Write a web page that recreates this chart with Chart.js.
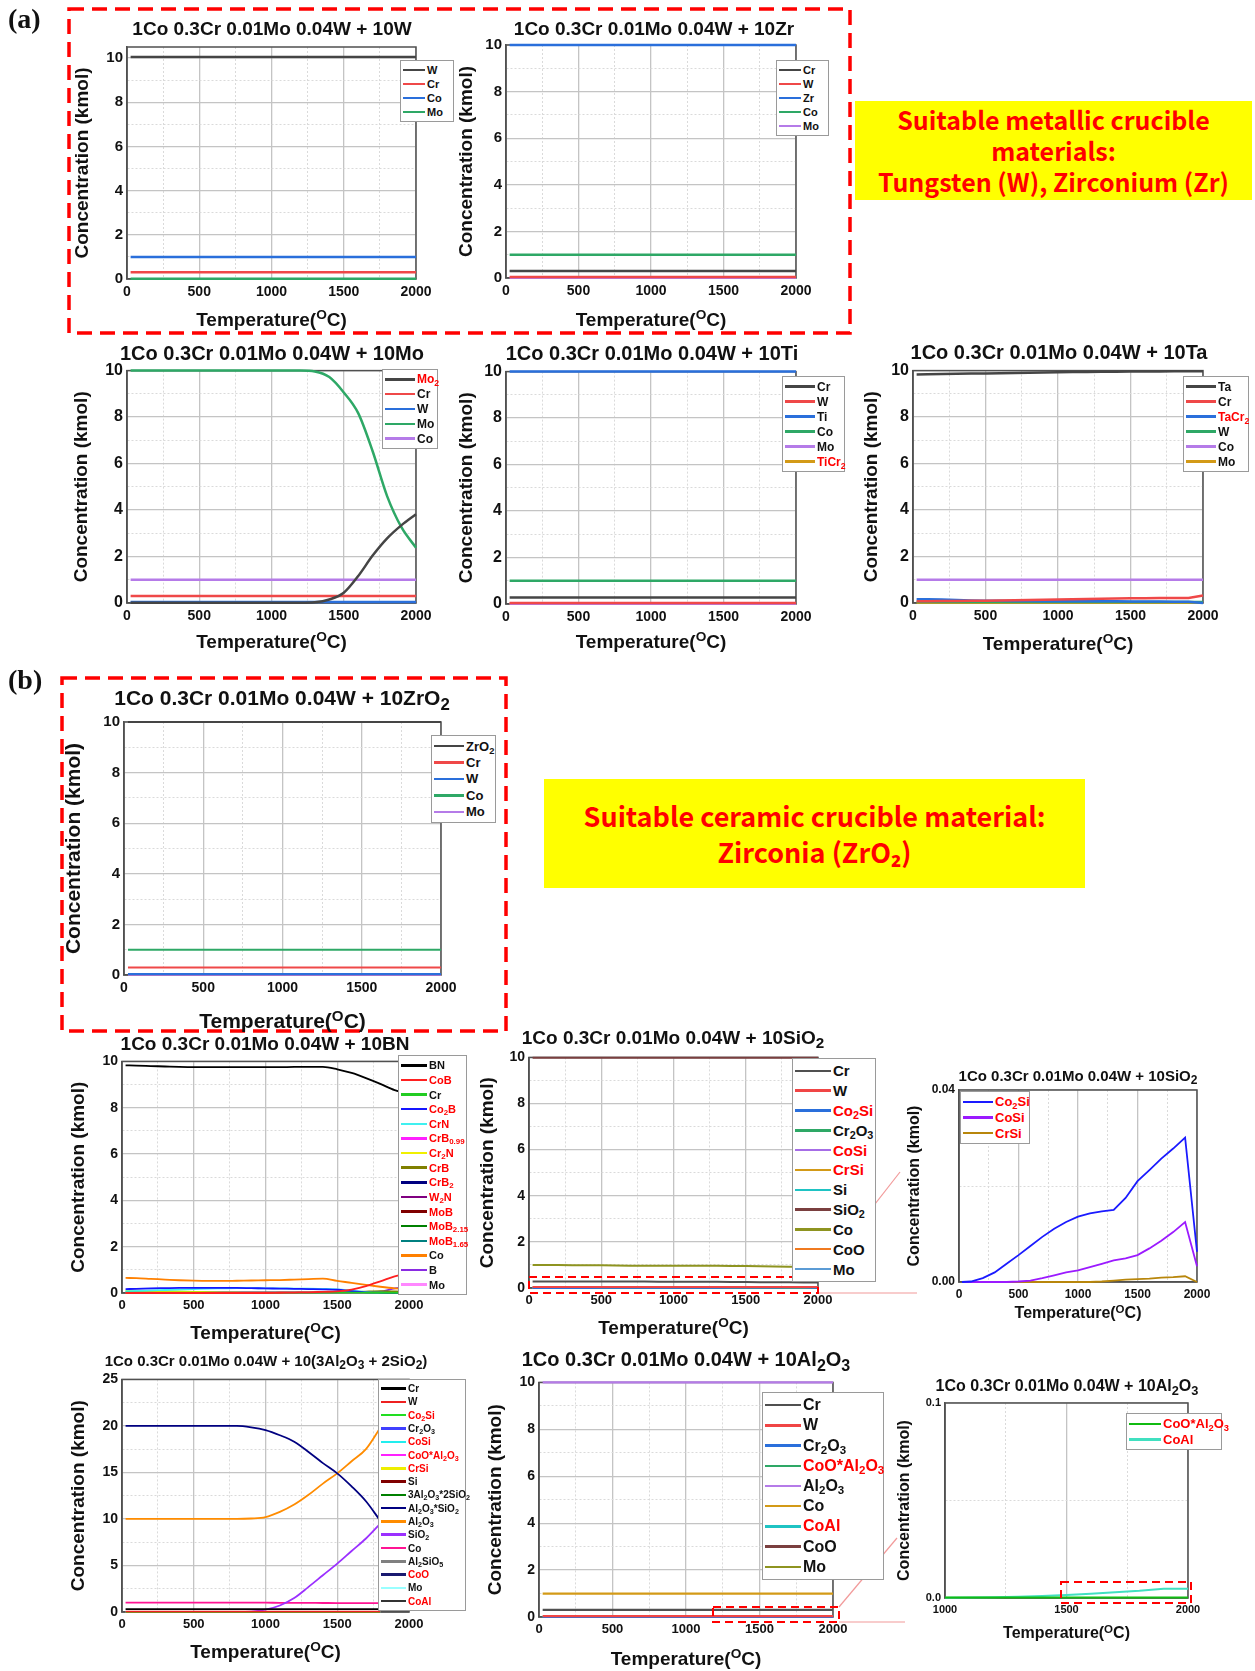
<!DOCTYPE html>
<html>
<head>
<meta charset="utf-8">
<script src="https://cdn.jsdelivr.net/npm/chart.js@4.4.1/dist/chart.umd.min.js"></script>
<style>
  body { margin: 0; background: #fff; }
  #page { position: relative; width: 1255px; height: 1671px; overflow: hidden; font-family: "Liberation Sans", Arial, sans-serif; color: #111; }
  canvas { position: absolute; z-index: 1; }
  .ttl { position: absolute; transform: translate(-50%, -50%); white-space: nowrap; font-weight: bold; z-index: 5; line-height: 1; }
  .ttl sub { font-size: 0.8em; vertical-align: -0.3em; line-height: 0; }
  .ttl sup { font-size: 0.72em; vertical-align: 0.45em; line-height: 0; }
  .lg { position: absolute; background: #fff; border: 1px solid #9a9a9a; box-sizing: border-box; z-index: 4; padding: 2px 2px; font-weight: bold; }
  .lg .row { display: flex; align-items: center; white-space: nowrap; }
  .lg .sw { flex: none; margin-right: 2px; }
  .lg sub { font-size: 0.72em; vertical-align: -0.3em; line-height: 0; }
  .note { position: absolute; background: #ffff00; color: #ff0000; font-weight: bold; text-align: center; font-family: "Noto Sans CJK KR", "Noto Sans", sans-serif; display: flex; flex-direction: column; justify-content: center; z-index: 5; }
  .tag { position: absolute; font-family: "Liberation Serif", "Times New Roman", serif; font-weight: bold; font-size: 28px; z-index: 5; }
  svg { position: absolute; left: 0; top: 0; }
</style>
</head>
<body>
<div id="page">
  <svg width="1255" height="1671" style="z-index:0">
    <g stroke="#f29a9a" stroke-width="1.2" fill="none">
      <line x1="818" y1="1277" x2="900" y2="1172"/>
      <line x1="818" y1="1293" x2="917" y2="1293"/>
      <line x1="839" y1="1607" x2="897" y2="1538"/>
      <line x1="839" y1="1622" x2="905" y2="1622"/>
    </g>
  </svg>
  <svg width="1255" height="1671" style="z-index:3">
    <g fill="none" stroke="#ff0000">
      <rect x="69" y="9" width="781" height="324" stroke-width="3.5" stroke-dasharray="15 8"/>
      <rect x="62" y="678" width="444" height="353" stroke-width="3.5" stroke-dasharray="15 8"/>
      <rect x="529" y="1277" width="289" height="16" stroke-width="2" stroke-dasharray="8 5"/>
      <rect x="713" y="1607" width="126" height="15" stroke-width="2" stroke-dasharray="8 5"/>
      <rect x="1061" y="1582" width="130" height="21" stroke-width="2" stroke-dasharray="8 5"/>
    </g>
  </svg>
  <div class="tag" style="left:8px;top:3px;">(a)</div>
  <div class="tag" style="left:8px;top:664px;">(b)</div>
  <div class="note" style="left:855px;top:101px;width:397px;height:99px;font-size:25px;line-height:31px;">
    <div>Suitable metallic crucible</div><div>materials:</div><div>Tungsten (W), Zirconium (Zr)</div>
  </div>
  <div class="note" style="left:544px;top:779px;width:541px;height:109px;font-size:27px;line-height:36px;">
    <div>Suitable ceramic crucible material:</div><div>Zirconia (ZrO₂)</div>
  </div>
</div>
<script>
// temperature grids (degC)
const T_FLAT = [25, 2000];
const T_STEP = [25, 100, 200, 300, 400, 500, 600, 700, 800, 900, 1000, 1100, 1200, 1300, 1400, 1500, 1600, 1700, 1800, 1900, 2000];
const T_MUL = [25, 100, 200, 300, 400, 500, 600, 700, 800, 900, 1000, 1100, 1200, 1300, 1400, 1500, 1600, 1700, 1800];
const T_MUL_FLAT = [25, 1800];
const T_AL = [1000, 1100, 1200, 1300, 1400, 1500, 1600, 1700, 1800, 1900, 2000];
const T_AL_FLAT = [1000, 2000];

// + 10W  (a single number = flat line)
const wNames = ['W', 'Cr', 'Co', 'Mo'];
const wValues = [10.05, 0.3, 1.0, 0.01];

// + 10Zr
const zrNames = ['Cr', 'W', 'Zr', 'Co', 'Mo'];
const zrValues = [0.3, 0.04, 10.0, 1.0, 0.01];

// + 10Mo
const moMo2 = [0.01, 0.01, 0.01, 0.01, 0.01, 0.01, 0.01, 0.01, 0.01, 0.01, 0.01, 0.01, 0.01, 0.03, 0.15, 0.44, 1.16, 2.04, 2.78, 3.35, 3.82];
const moMo = [10, 10, 10, 10, 10, 10, 10, 10, 10, 10, 10, 10, 10, 9.96, 9.72, 9.06, 8.17, 6.53, 4.6, 3.25, 2.38];
const moNames = ['Mo_2', 'Cr', 'W', 'Mo', 'Co'];
const moValues = [moMo2, 0.3, 0.04, moMo, 1.0];

// + 10Ti
const tiNames = ['Cr', 'W', 'Ti', 'Co', 'Mo', 'TiCr_2'];
const tiValues = [0.28, 0.04, 10.0, 1.0, 0.01, 0.02];

// + 10Ta
const taTa = [9.83, 9.84, 9.85, 9.86, 9.87, 9.88, 9.89, 9.9, 9.91, 9.92, 9.93, 9.94, 9.94, 9.95, 9.95, 9.96, 9.96, 9.96, 9.97, 9.97, 9.97];
const taCr = [0.08, 0.08, 0.09, 0.09, 0.1, 0.1, 0.11, 0.12, 0.13, 0.14, 0.15, 0.16, 0.17, 0.18, 0.19, 0.2, 0.2, 0.21, 0.21, 0.22, 0.32];
const taTaCr2 = [0.16, 0.16, 0.15, 0.13, 0.11, 0.1, 0.1, 0.09, 0.09, 0.08, 0.08, 0.08, 0.07, 0.07, 0.07, 0.06, 0.06, 0.06, 0.05, 0.05, 0.0];
const taNames = ['Ta', 'Cr', 'TaCr_2', 'W', 'Co', 'Mo'];
const taValues = [taTa, taCr, taTaCr2, 0.04, 1.0, 0.01];

// + 10ZrO2
const zro2Names = ['ZrO_2', 'Cr', 'W', 'Co', 'Mo'];
const zro2Values = [10.0, 0.3, 0.04, 1.0, 0.01];

// + 10BN
const bnBN = [9.83, 9.82, 9.8, 9.78, 9.76, 9.75, 9.75, 9.75, 9.75, 9.75, 9.75, 9.75, 9.76, 9.76, 9.76, 9.66, 9.5, 9.28, 9.03, 8.76, 8.6];
const bnCoB = [0, 0, 0, 0, 0, 0, 0, 0, 0, 0, 0, 0.01, 0.02, 0.03, 0.05, 0.07, 0.15, 0.3, 0.5, 0.72, 0.82];
const bnCo2B = [0.17, 0.18, 0.2, 0.21, 0.22, 0.22, 0.22, 0.22, 0.22, 0.21, 0.2, 0.19, 0.18, 0.17, 0.16, 0.14, 0.08, 0.03, 0.01, 0, 0];
const bnCrN = [0.08, 0.09, 0.11, 0.13, 0.15, 0.17, 0.19, 0.2, 0.21, 0.21, 0.2, 0.2, 0.19, 0.19, 0.18, 0.16, 0.1, 0.04, 0.01, 0, 0];
const bnCr2N = [0.1, 0.1, 0.09, 0.08, 0.07, 0.05, 0.04, 0.02, 0.01, 0, 0, 0, 0, 0, 0, 0, 0, 0, 0, 0, 0];
const bnCrB = [0, 0, 0, 0, 0, 0, 0, 0, 0, 0, 0, 0, 0, 0, 0, 0.01, 0.03, 0.06, 0.08, 0.07, 0.05];
const bnCo = [0.65, 0.64, 0.61, 0.58, 0.55, 0.53, 0.52, 0.52, 0.53, 0.54, 0.55, 0.56, 0.58, 0.6, 0.62, 0.52, 0.44, 0.35, 0.27, 0.2, 0.15];
const bnB = [0, 0, 0, 0, 0, 0, 0, 0, 0, 0, 0, 0, 0, 0, 0, 0, 0, 0.02, 0.06, 0.2, 0.3];
const bnNames = ['BN', 'CoB', 'Cr', 'Co_2B', 'CrN', 'CrB_{0.99}', 'Cr_2N', 'CrB', 'CrB_2', 'W_2N', 'MoB', 'MoB_{2.15}', 'MoB_{1.65}', 'Co', 'B', 'Mo'];
const bnValues = [bnBN, bnCoB, 0.01, bnCo2B, bnCrN, 0.0, bnCr2N, bnCrB, 0.0, 0.02, 0.01, 0.0, 0.0, bnCo, bnB, 0.01];

// + 10SiO2 (silicides also used in the zoomed panel)
const siCo2Si = [0, 0.0001, 0.0008, 0.002, 0.0038, 0.0056, 0.0075, 0.0094, 0.0111, 0.0125, 0.0136, 0.0143, 0.0147, 0.015, 0.0175, 0.021, 0.0233, 0.0257, 0.0278, 0.0301, 0.0063];
const siCoSi = [0, 0, 0, 0, 0, 0.0001, 0.0003, 0.0008, 0.0014, 0.002, 0.0024, 0.0031, 0.0038, 0.0045, 0.0049, 0.0056, 0.007, 0.0086, 0.0104, 0.0125, 0.0033];
const siCrSi = [0, 0, 0, 0, 0, 0, 0, 0, 0, 0, 0, 0, 0.0001, 0.0003, 0.0005, 0.0006, 0.0007, 0.0009, 0.001, 0.0012, 0];
const sio2Cr = [0.28, 0.28, 0.28, 0.28, 0.28, 0.28, 0.28, 0.28, 0.28, 0.27, 0.27, 0.27, 0.27, 0.27, 0.26, 0.26, 0.25, 0.25, 0.25, 0.24, 0.24];
const sio2Co = [1.0, 1.0, 1.0, 0.99, 0.99, 0.99, 0.98, 0.97, 0.97, 0.97, 0.97, 0.97, 0.96, 0.96, 0.95, 0.95, 0.94, 0.93, 0.92, 0.92, 0.91];
const sio2Names = ['Cr', 'W', 'Co_2Si', 'Cr_2O_3', 'CoSi', 'CrSi', 'Si', 'SiO_2', 'Co', 'CoO', 'Mo'];
const sio2Values = [sio2Cr, 0.04, siCo2Si, 0.01, siCoSi, siCrSi, 0.0, 9.99, sio2Co, 0.02, 0.01];
const siInsetNames = ['Co_2Si', 'CoSi', 'CrSi'];
const siInsetValues = [siCo2Si, siCoSi, siCrSi];

// + 10(3Al2O3 + 2SiO2)
const mulAS = [20, 20, 20, 20, 20, 20, 20, 20, 20, 19.85, 19.55, 19.0, 18.3, 17.2, 16.0, 14.9, 13.5, 11.9, 9.8];
const mulAl2O3 = [10, 10, 10, 10, 10, 10, 10, 10, 10, 10.05, 10.2, 10.76, 11.55, 12.6, 13.8, 14.9, 16.2, 17.5, 19.8];
const mulSiO2 = [0, 0, 0, 0, 0, 0, 0, 0, 0, 0.03, 0.25, 0.7, 1.5, 2.7, 3.95, 5.2, 6.56, 7.9, 9.5];
const mulCo = [1.0, 1.0, 1.0, 1.0, 1.0, 1.0, 1.0, 1.0, 1.0, 1.0, 1.0, 0.99, 0.99, 0.98, 0.97, 0.96, 0.96, 0.95, 0.95];
const mulNames = ['Cr', 'W', 'Co_2Si', 'Cr_2O_3', 'CoSi', 'CoO*Al_2O_3', 'CrSi', 'Si', '3Al_2O_3*2SiO_2', 'Al_2O_3*SiO_2', 'Al_2O_3', 'SiO_2', 'Co', 'Al_2SiO_5', 'CoO', 'Mo', 'CoAl'];
const mulValues = [0.3, 0.04, 0, 0.01, 0, 0, 0, 0, 0, mulAS, mulAl2O3, mulSiO2, mulCo, 0, 0, 0.01, 0];

// + 10Al2O3
const alNames = ['Cr', 'W', 'Cr_2O_3', 'CoO*Al_2O_3', 'Al_2O_3', 'Co', 'CoAl', 'CoO', 'Mo'];
const alValues = [0.3, 0.04, 0.0, 0.0, 10.0, 1.0, 0.005, 0.0, 0.01];
const alCoAl = [0.0001, 0.0002, 0.0004, 0.0006, 0.001, 0.0016, 0.0022, 0.0029, 0.0037, 0.0048, 0.0048];
const alInsetNames = ['CoO*Al_2O_3', 'CoAl'];
const alInsetValues = [0.0003, alCoAl];

const FONT = '"Liberation Sans", Arial, sans-serif';
const GRAY = '#454545', RED = '#ef4848', BLUE = '#2a6fdb', GREEN = '#2ea866', PURPLE = '#b57be8', GOLD = '#d39a17';
const page = document.getElementById('page');

function chem(s) {
  return s.replace(/_\{([^}]*)\}/g, '<sub>$1</sub>').replace(/_(\d)/g, '<sub>$1</sub>');
}

function near(v, step) {
  const r = v / step;
  return Math.abs(r - Math.round(r)) < 1e-6;
}

function text(cx, cy, html, size) {
  const d = document.createElement('div');
  d.className = 'ttl';
  d.style.left = cx + 'px';
  d.style.top = cy + 'px';
  d.style.fontSize = size + 'px';
  d.innerHTML = html;
  page.appendChild(d);
}

const framePlugin = {
  id: 'frame',
  beforeDatasetsDraw(chart) {
    const a = chart.chartArea, g = chart.ctx;
    g.save();
    g.strokeStyle = '#505050';
    g.lineWidth = 1.5;
    g.strokeRect(a.left, a.top, a.right - a.left, a.bottom - a.top);
    g.restore();
  }
};

function buildDatasets(p) {
  return p.names.map((name, i) => {
    const v = p.values[i];
    const flat = typeof v === 'number';
    const xs = flat ? p.flatX : p.curveX;
    const ys = flat ? [v, v] : v;
    return {
      label: name,
      data: xs.map((x, j) => ({ x: x, y: ys[j] })),
      borderColor: p.colors[i],
      backgroundColor: p.colors[i],
      borderWidth: p.lw,
      pointRadius: 0,
      fill: false,
      clip: false,
      cubicInterpolationMode: p.smooth ? 'monotone' : 'default'
    };
  });
}

function buildLegend(chart, p) {
  const lg = p.legend;
  const box = document.createElement('div');
  box.className = 'lg';
  box.style.left = lg.x + 'px';
  box.style.top = lg.y + 'px';
  box.style.width = lg.w + 'px';
  box.style.height = lg.h + 'px';
  box.style.fontSize = lg.font + 'px';
  const sets = chart.data.datasets;
  const rowH = (lg.h - 6) / sets.length;
  sets.forEach(ds => {
    const row = document.createElement('div');
    row.className = 'row';
    row.style.height = rowH + 'px';
    const col = lg.red.includes(ds.label) ? '#ff0000' : '#111';
    row.innerHTML = '<span class="sw" style="width:' + lg.sw + 'px;height:2.5px;background:' + ds.borderColor + '"></span>' +
      '<span style="color:' + col + '">' + chem(ds.label) + '</span>';
    box.appendChild(row);
  });
  page.appendChild(box);
}

function makePanel(p) {
  const padT = 12, padR = 26, padB = 30;
  const padL = Math.round(p.L - p.ytX + p.ytSize * 0.6 + 4);
  const w = p.R - p.L + padL + padR, h = p.B - p.T + padT + padB;
  const cv = document.createElement('canvas');
  cv.width = w; cv.height = h;
  cv.style.left = (p.L - padL) + 'px';
  cv.style.top = (p.T - padT) + 'px';
  cv.style.width = w + 'px';
  cv.style.height = h + 'px';
  page.appendChild(cv);

  const grid = ax => ({
    color: c => c.tick && near(c.tick.value, ax.major) ? '#c4c4c4' : '#dadada',
    lineWidth: c => c.tick && near(c.tick.value, ax.major) ? 1.3 : 1,
    drawTicks: false
  });
  const border = ax => ({
    color: '#505050', width: 1.5,
    dash: c => (c.tick && !near(c.tick.value, ax.major)) ? [2, 2] : []
  });
  const fmt = ax => v => near(v, ax.major) ? (ax.dec ? v.toFixed(ax.dec) : String(v)) : '';

  const chart = new Chart(cv, {
    type: 'line',
    data: { datasets: buildDatasets(p) },
    options: {
      responsive: false,
      animation: false,
      devicePixelRatio: 1,
      layout: { padding: { left: 0, top: padT, right: padR, bottom: 0 } },
      plugins: { legend: { display: false }, tooltip: { enabled: false } },
      scales: {
        x: {
          type: 'linear', min: p.x.min, max: p.x.max,
          afterFit: s => { s.height = padB; },
          ticks: { stepSize: p.x.step, autoSkip: false, maxRotation: 0, padding: 5, color: '#111',
            font: { family: FONT, weight: 'bold', size: p.xtick }, callback: fmt(p.x) },
          grid: grid(p.x), border: border(p.x)
        },
        y: {
          type: 'linear', min: p.y.min, max: p.y.max,
          afterFit: s => { s.width = padL; },
          ticks: { stepSize: p.y.step, autoSkip: false, padding: 4, color: '#111', includeBounds: p.y.incl !== false,
            font: { family: FONT, weight: 'bold', size: p.ytick }, callback: fmt(p.y) },
          grid: grid(p.y), border: border(p.y),
          title: { display: true, text: 'Concentration (kmol)', color: '#111', font: { family: FONT, weight: 'bold', size: p.ytSize } }
        }
      }
    },
    plugins: [framePlugin]
  });

  buildLegend(chart, p);
  const cx = (p.L + p.R) / 2;
  text(p.titleX || cx, p.titleY, p.title, p.titleSize);
  text(cx, p.xtY, 'Temperature(<sup>O</sup>C)', p.xtSize);
}

const X_MAIN = { min: 0, max: 2000, step: 250, major: 500 };
const Y_TEN = { min: 0, max: 10, step: 1, major: 2 };
const HEAD = '1Co 0.3Cr 0.01Mo 0.04W + 10';

const panels = [
  { title: HEAD + 'W', titleX: 272, titleY: 28, titleSize: 19, L: 127, T: 46, R: 416, B: 279, ytX: 82, ytSize: 19, xtY: 319, xtSize: 19, xtick: 14, ytick: 15,
    x: X_MAIN, y: { min: 0, max: 10.5, step: 1, major: 2, incl: false }, names: wNames, values: wValues, flatX: T_FLAT, curveX: T_STEP,
    colors: [GRAY, RED, BLUE, GREEN], lw: 2.5,
    legend: { x: 400, y: 60, w: 54, h: 62, font: 11, sw: 22, red: [] } },
  { title: HEAD + 'Zr', titleX: 654, titleY: 28, titleSize: 19, L: 506, T: 44, R: 796, B: 278, ytX: 466, ytSize: 19, xtY: 319, xtSize: 19, xtick: 14, ytick: 15,
    x: X_MAIN, y: Y_TEN, names: zrNames, values: zrValues, flatX: T_FLAT, curveX: T_STEP,
    colors: [GRAY, RED, BLUE, GREEN, PURPLE], lw: 2.5,
    legend: { x: 776, y: 60, w: 53, h: 76, font: 11, sw: 22, red: [] } },
  { title: HEAD + 'Mo', titleX: 272, titleY: 353, titleSize: 20, L: 127, T: 369, R: 416, B: 603, ytX: 81, ytSize: 19, xtY: 641, xtSize: 19, xtick: 14, ytick: 16,
    x: X_MAIN, y: Y_TEN, names: moNames, values: moValues, flatX: T_FLAT, curveX: T_STEP, smooth: true,
    colors: [GRAY, RED, BLUE, GREEN, PURPLE], lw: 2.5,
    legend: { x: 382, y: 369, w: 56, h: 80, font: 12, sw: 30, red: ['Mo_2'] } },
  { title: HEAD + 'Ti', titleX: 652, titleY: 353, titleSize: 20, L: 506, T: 370, R: 796, B: 604, ytX: 466, ytSize: 19, xtY: 641, xtSize: 19, xtick: 14, ytick: 16,
    x: X_MAIN, y: Y_TEN, names: tiNames, values: tiValues, flatX: T_FLAT, curveX: T_STEP,
    colors: [GRAY, RED, BLUE, GREEN, PURPLE, GOLD], lw: 2.5,
    legend: { x: 782, y: 376, w: 63, h: 96, font: 12, sw: 30, red: ['TiCr_2'] } },
  { title: HEAD + 'Ta', titleX: 1059, titleY: 352, titleSize: 20, L: 913, T: 369, R: 1203, B: 603, ytX: 871, ytSize: 19, xtY: 643, xtSize: 19, xtick: 14, ytick: 16,
    x: X_MAIN, y: Y_TEN, names: taNames, values: taValues, flatX: T_FLAT, curveX: T_STEP,
    colors: [GRAY, RED, BLUE, GREEN, PURPLE, GOLD], lw: 2.5,
    legend: { x: 1183, y: 376, w: 66, h: 96, font: 12, sw: 30, red: ['TaCr_2'] } },
  { title: HEAD + 'ZrO<sub>2</sub>', titleX: 282, titleY: 697, titleSize: 21, L: 124, T: 721, R: 441, B: 975, ytX: 75, ytSize: 21, xtY: 1020, xtSize: 21, xtick: 14, ytick: 15,
    x: X_MAIN, y: Y_TEN, names: zro2Names, values: zro2Values, flatX: T_FLAT, curveX: T_STEP,
    colors: [GRAY, RED, BLUE, GREEN, PURPLE], lw: 2,
    legend: { x: 431, y: 735, w: 65, h: 88, font: 13, sw: 30, red: [] } },
  { title: HEAD + 'BN', titleX: 265, titleY: 1043, titleSize: 19, L: 122, T: 1061, R: 409, B: 1293, ytX: 78, ytSize: 19, xtY: 1332, xtSize: 19, xtick: 13, ytick: 14,
    x: X_MAIN, y: Y_TEN, names: bnNames, values: bnValues, flatX: T_FLAT, curveX: T_STEP, smooth: true,
    colors: ['#000000', '#ff2020', '#22cc22', '#1515ff', '#40f0f0', '#ff20ff', '#f0f000', '#808000', '#000080', '#800080', '#800000', '#008000', '#008080', '#ff8000', '#8a2be2', '#ff88ff'], lw: 1.8,
    legend: { x: 398, y: 1055, w: 69, h: 240, font: 11, sw: 26, red: ['CoB', 'Co_2B', 'CrN', 'CrB_{0.99}', 'Cr_2N', 'CrB', 'CrB_2', 'W_2N', 'MoB', 'MoB_{2.15}', 'MoB_{1.65}'] } },
  { title: HEAD + 'SiO<sub>2</sub>', titleX: 673, titleY: 1037, titleSize: 19, L: 529, T: 1057, R: 818, B: 1288, ytX: 487, ytSize: 19, xtY: 1327, xtSize: 19, xtick: 13, ytick: 14,
    x: X_MAIN, y: Y_TEN, names: sio2Names, values: sio2Values, flatX: T_FLAT, curveX: T_STEP,
    colors: ['#505050', '#f04545', '#2a6fdb', '#2ea866', '#a66de6', '#d39a17', '#1fc3c3', '#7a3f3f', '#8e9420', '#f07a20', '#5b9bd5'], lw: 2,
    legend: { x: 792, y: 1058, w: 84, h: 224, font: 15, sw: 36, red: ['Co_2Si', 'CoSi', 'CrSi'] } },
  { title: HEAD + 'SiO<sub>2</sub>', titleX: 1078, titleY: 1075, titleSize: 15, L: 959, T: 1090, R: 1197, B: 1282, ytX: 915, ytSize: 16, xtY: 1313, xtSize: 16, xtick: 12, ytick: 12,
    x: X_MAIN, y: { min: 0, max: 0.04, step: 0.02, major: 0.04, dec: 2 }, names: siInsetNames, values: siInsetValues, flatX: T_FLAT, curveX: T_STEP,
    colors: ['#1a1aff', '#9b1aff', '#b8860b'], lw: 1.8,
    legend: { x: 960, y: 1091, w: 70, h: 53, font: 13, sw: 30, red: siInsetNames } },
  { title: '1Co 0.3Cr 0.01Mo 0.04W + 10(3Al<sub>2</sub>O<sub>3</sub> + 2SiO<sub>2</sub>)', titleX: 266, titleY: 1360, titleSize: 15, L: 122, T: 1379, R: 409, B: 1612, ytX: 78, ytSize: 19, xtY: 1651, xtSize: 19, xtick: 13, ytick: 14,
    x: X_MAIN, y: { min: 0, max: 25, step: 2.5, major: 5 }, names: mulNames, values: mulValues, flatX: T_MUL_FLAT, curveX: T_MUL, smooth: true,
    colors: ['#000000', '#ee2020', '#22dd22', '#4040ff', '#22eeee', '#ff22ff', '#eeee00', '#800000', '#008000', '#000080', '#ff8c00', '#9b30ff', '#ff1493', '#808080', '#191970', '#99ffff', '#333333'], lw: 1.8,
    legend: { x: 378, y: 1379, w: 88, h: 232, font: 10, sw: 25, red: ['Co_2Si', 'CoSi', 'CoO*Al_2O_3', 'CrSi', 'CoO', 'CoAl'] } },
  { title: HEAD + 'Al<sub>2</sub>O<sub>3</sub>', titleX: 686, titleY: 1359, titleSize: 20, L: 539, T: 1382, R: 833, B: 1617, ytX: 495, ytSize: 19, xtY: 1658, xtSize: 19, xtick: 13, ytick: 14,
    x: X_MAIN, y: Y_TEN, names: alNames, values: alValues, flatX: T_FLAT, curveX: T_STEP,
    colors: ['#505050', '#f04545', '#2a6fdb', '#2ea866', '#b57be8', '#d39a17', '#1fc3c3', '#7a3f3f', '#8e9420'], lw: 2.2,
    legend: { x: 762, y: 1392, w: 122, h: 188, font: 16, sw: 36, red: ['CoO*Al_2O_3', 'CoAl'] } },
  { title: HEAD + 'Al<sub>2</sub>O<sub>3</sub>', titleX: 1067, titleY: 1386, titleSize: 16, L: 945, T: 1403, R: 1188, B: 1598, ytX: 905, ytSize: 16, xtY: 1633, xtSize: 16, xtick: 11, ytick: 11,
    x: { min: 1000, max: 2000, step: 250, major: 500 }, y: { min: 0, max: 0.1, step: 0.05, major: 0.1, dec: 1 },
    names: alInsetNames, values: alInsetValues, flatX: T_AL_FLAT, curveX: T_AL,
    colors: ['#11bb11', '#40e0c0'], lw: 2,
    legend: { x: 1126, y: 1413, w: 96, h: 37, font: 13, sw: 32, red: alInsetNames } }
];

panels.forEach(makePanel);
</script>
</body>
</html>
